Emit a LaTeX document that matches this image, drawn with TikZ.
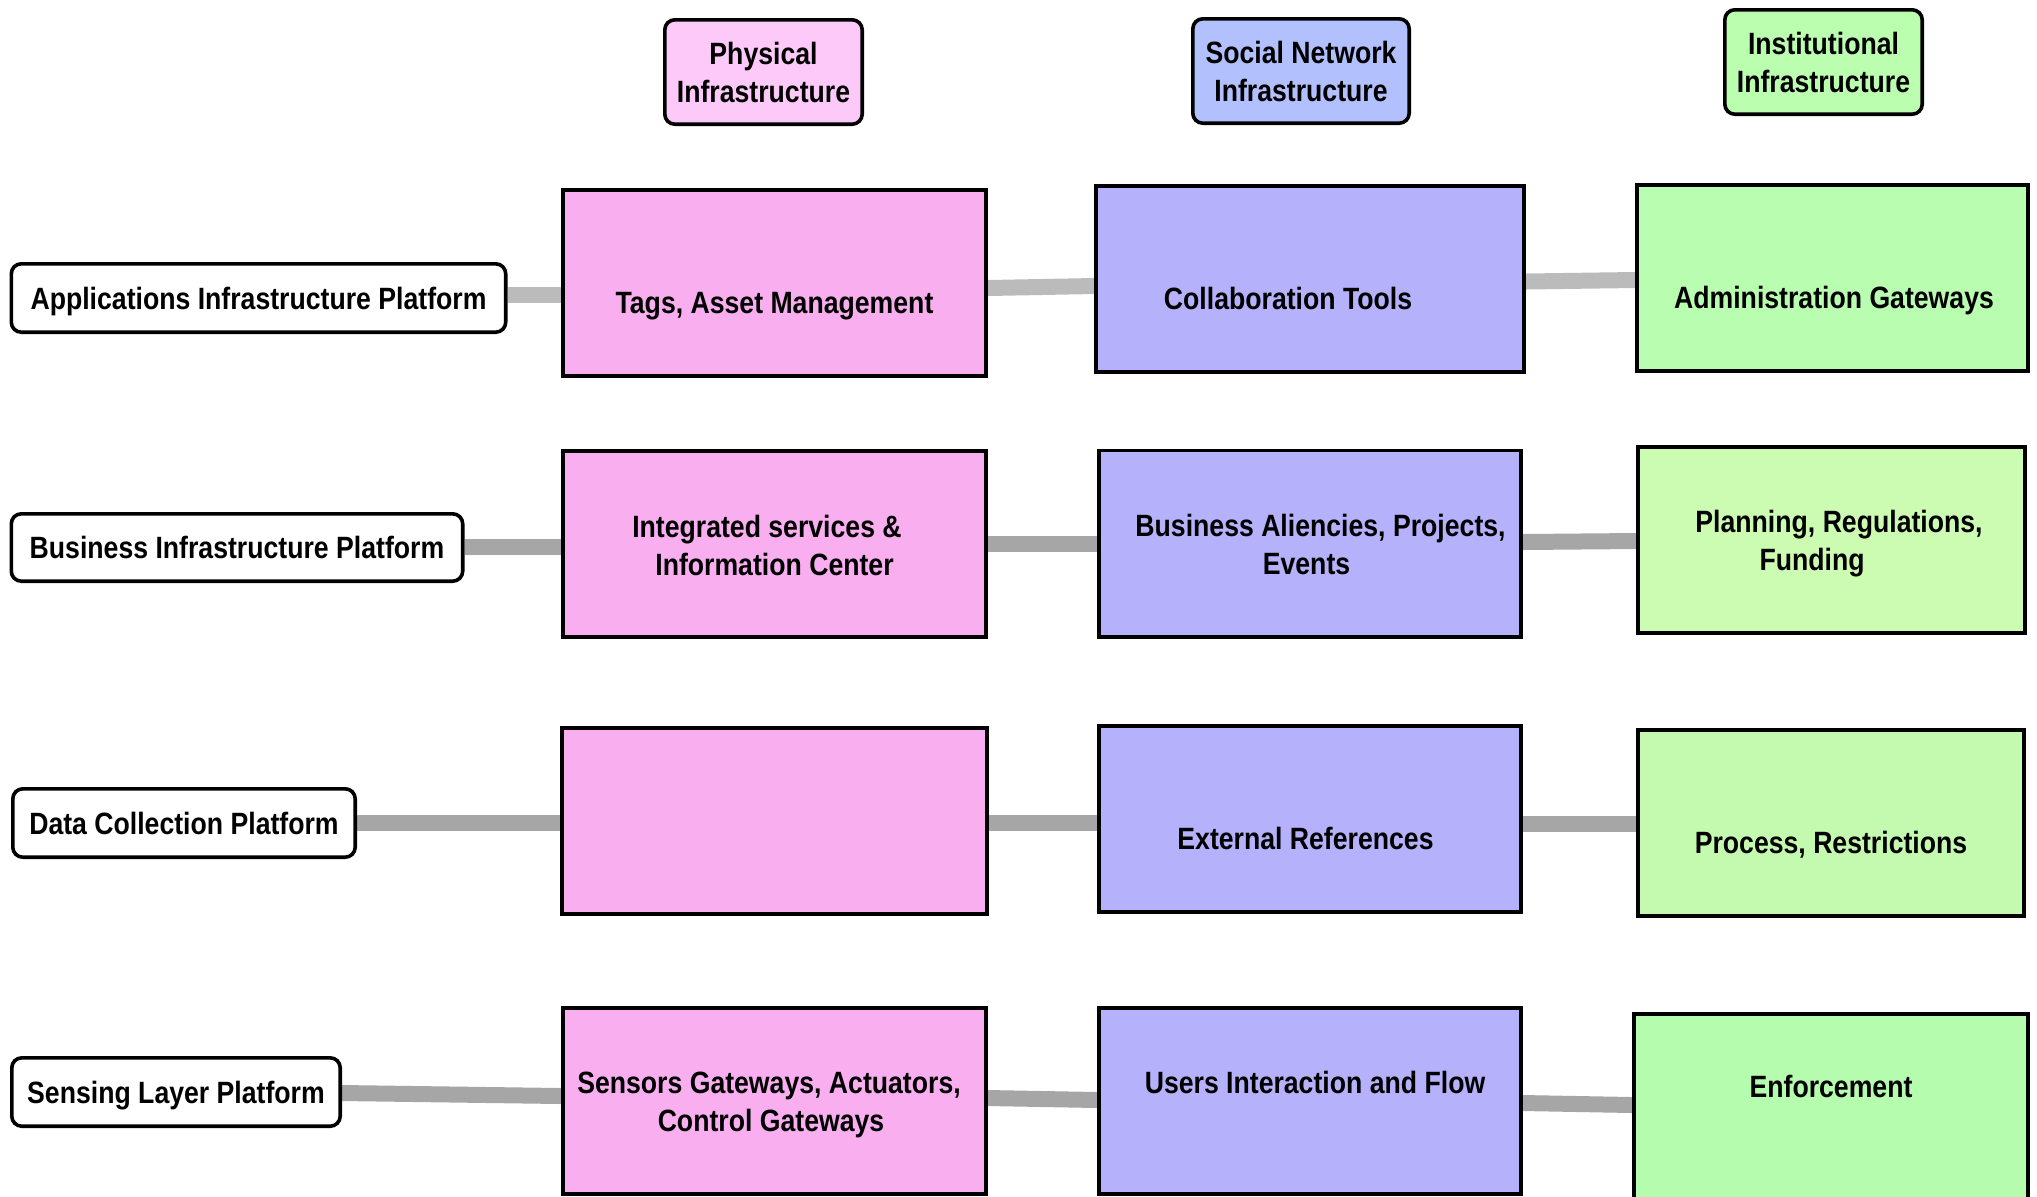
\documentclass[tikz,border=0pt]{standalone}
\usepackage{fontspec}
\newfontfamily\diafont{Liberation Sans}[FakeStretch=0.865]
\usetikzlibrary{backgrounds,calc}

\definecolor{physHead}{HTML}{FDC9F9}
\definecolor{physCell}{HTML}{F9AEF0}
\definecolor{socHead}{HTML}{B2C0FE}
\definecolor{socCell}{HTML}{B5B1FB}
\definecolor{instHead}{HTML}{BBFEB0}
\definecolor{instA}{HTML}{B9FDB1}
\definecolor{instB}{HTML}{CBFCB1}
\definecolor{instC}{HTML}{C4FAAF}
\definecolor{instD}{HTML}{B6FCAE}
\definecolor{linkLight}{HTML}{BBBBBB}
\definecolor{linkDark}{HTML}{A6A6A6}

\tikzset{
  frame/.style={draw=black, line width=1.8pt, inner sep=0pt},
  header/.style={frame, rounded corners=5pt, align=center,
    minimum width=#1, minimum height=52.2pt},
  platform/.style={frame, rounded corners=5pt, fill=white,
    minimum width=#1, minimum height=34.2pt, text height=11pt, text depth=0pt},
  cell/.style={frame, minimum width=#1, minimum height=93.2pt},
  txt/.style={inner sep=0pt, text height=11pt, text depth=0pt},
  link/.style={line width=8pt, line cap=butt},
}

\begin{document}
\begin{tikzpicture}[x=0.5pt, y=-0.5pt,
    font={\diafont\bfseries\fontsize{15.4pt}{19pt}\selectfont}]
  \useasboundingbox (0,0) rectangle (2037,1196);
  \clip (0,0) rectangle (2037,1196);

  % column headers
  \node[header=98.7pt, fill=physHead] (hPhys) at (763.5,72) {Physical\\Infrastructure};
  \node[header=108.2pt, fill=socHead] (hSoc) at (1301,71) {Social Network\\Infrastructure};
  \node[header=98.7pt, fill=instHead] (hInst) at (1823.5,62) {Institutional\\Infrastructure};

  % platform layers
  \node[platform=247.2pt] (pApp) at (258.5,298) {Applications Infrastructure Platform};
  \node[platform=225.7pt, minimum height=33.7pt] (pBiz) at (237,547.5) {Business Infrastructure Platform};
  \node[platform=171.2pt] (pData) at (184,823) {Data Collection Platform};
  \node[platform=164.2pt] (pSens) at (176,1092) {Sensing Layer Platform};

  % physical infrastructure column
  \node[cell=211.7pt, fill=physCell,
    label={[txt, yshift=-9.75pt]center:{Tags, Asset Management}}] (tags) at (774.5,283) {};
  \node[cell=211.7pt, fill=physCell,
    label={[txt, xshift=-3.75pt, yshift=9pt]center:{Integrated services \&}},
    label={[txt, yshift=-10pt]center:{Information Center}}] (integ) at (774.5,544) {};
  \node[cell=212.7pt, fill=physCell] (phys3) at (774.5,821) {};
  \node[cell=211.7pt, fill=physCell,
    label={[txt, xshift=-2.75pt, yshift=9.5pt]center:{Sensors Gateways, Actuators,}},
    label={[txt, xshift=-1.75pt, yshift=-9.5pt]center:{Control Gateways}}] (sensors) at (774.5,1101) {};

  % social network column
  \node[cell=214.2pt, fill=socCell,
    label={[txt, xshift=-11pt, yshift=-9.75pt]center:{Collaboration Tools}}] (collab) at (1310,279) {};
  \node[cell=211.2pt, fill=socCell,
    label={[txt, xshift=5.25pt, yshift=9.25pt]center:{Business Aliencies, Projects,}},
    label={[txt, xshift=-1.75pt, yshift=-9.75pt]center:{Events}}] (bizal) at (1310,543.5) {};
  \node[cell=211.2pt, fill=socCell,
    label={[txt, xshift=-2.25pt, yshift=-9.75pt]center:{External References}}] (extref) at (1310,819) {};
  \node[cell=211.2pt, fill=socCell,
    label={[txt, xshift=2.5pt, yshift=9.5pt]center:{Users Interaction and Flow}}] (users) at (1310,1101) {};

  % institutional column
  \node[cell=195.7pt, fill=instA,
    label={[txt, xshift=0.75pt, yshift=-9.75pt]center:{Administration Gateways}}] (admin) at (1832.5,278) {};
  \node[cell=193.7pt, fill=instB,
    label={[txt, xshift=3.75pt, yshift=9.5pt]center:{Planning, Regulations,}},
    label={[txt, xshift=-9.75pt, yshift=-9.5pt]center:{Funding}}] (plan) at (1831.5,540) {};
  \node[cell=193.2pt, fill=instC,
    label={[txt, yshift=-9.5pt]center:{Process, Restrictions}}] (proc) at (1831,823) {};
  \node[cell=197.2pt, fill=instD,
    label={[txt, yshift=10.5pt]center:{Enforcement}}] (enf) at (1831,1107) {};

  % connectors between layers
  \begin{scope}[on background layer]
    \draw[link, linkLight] ($(pApp.east)+(0,-3)$) -- ($(tags.west)+(0,12)$);
    \draw[link, linkLight] ($(tags.east)+(0,5)$) -- ($(collab.west)+(0,7)$);
    \draw[link, linkLight] ($(collab.east)+(0,2.5)$) -- ($(admin.west)+(0,2)$);

    \draw[link, linkDark] ($(pBiz.east)+(0,-0.5)$) -- ($(integ.west)+(0,3)$);
    \draw[link, linkDark] (integ.east) -- ($(bizal.west)+(0,0.5)$);
    \draw[link, linkDark] ($(bizal.east)+(0,-1.5)$) -- ($(plan.west)+(0,1)$);

    \draw[link, linkDark] (pData.east) -- ($(phys3.west)+(0,2)$);
    \draw[link, linkDark] ($(phys3.east)+(0,2)$) -- ($(extref.west)+(0,4)$);
    \draw[link, linkDark] ($(extref.east)+(0,5)$) -- ($(proc.west)+(0,1)$);

    \draw[link, linkDark] ($(pSens.east)+(0,1)$) -- ($(sensors.west)+(0,-5)$);
    \draw[link, linkDark] ($(sensors.east)+(0,-3)$) -- ($(users.west)+(0,-1)$);
    \draw[link, linkDark] ($(users.east)+(0,2)$) -- ($(enf.west)+(0,-2)$);
  \end{scope}
\end{tikzpicture}
\end{document}
